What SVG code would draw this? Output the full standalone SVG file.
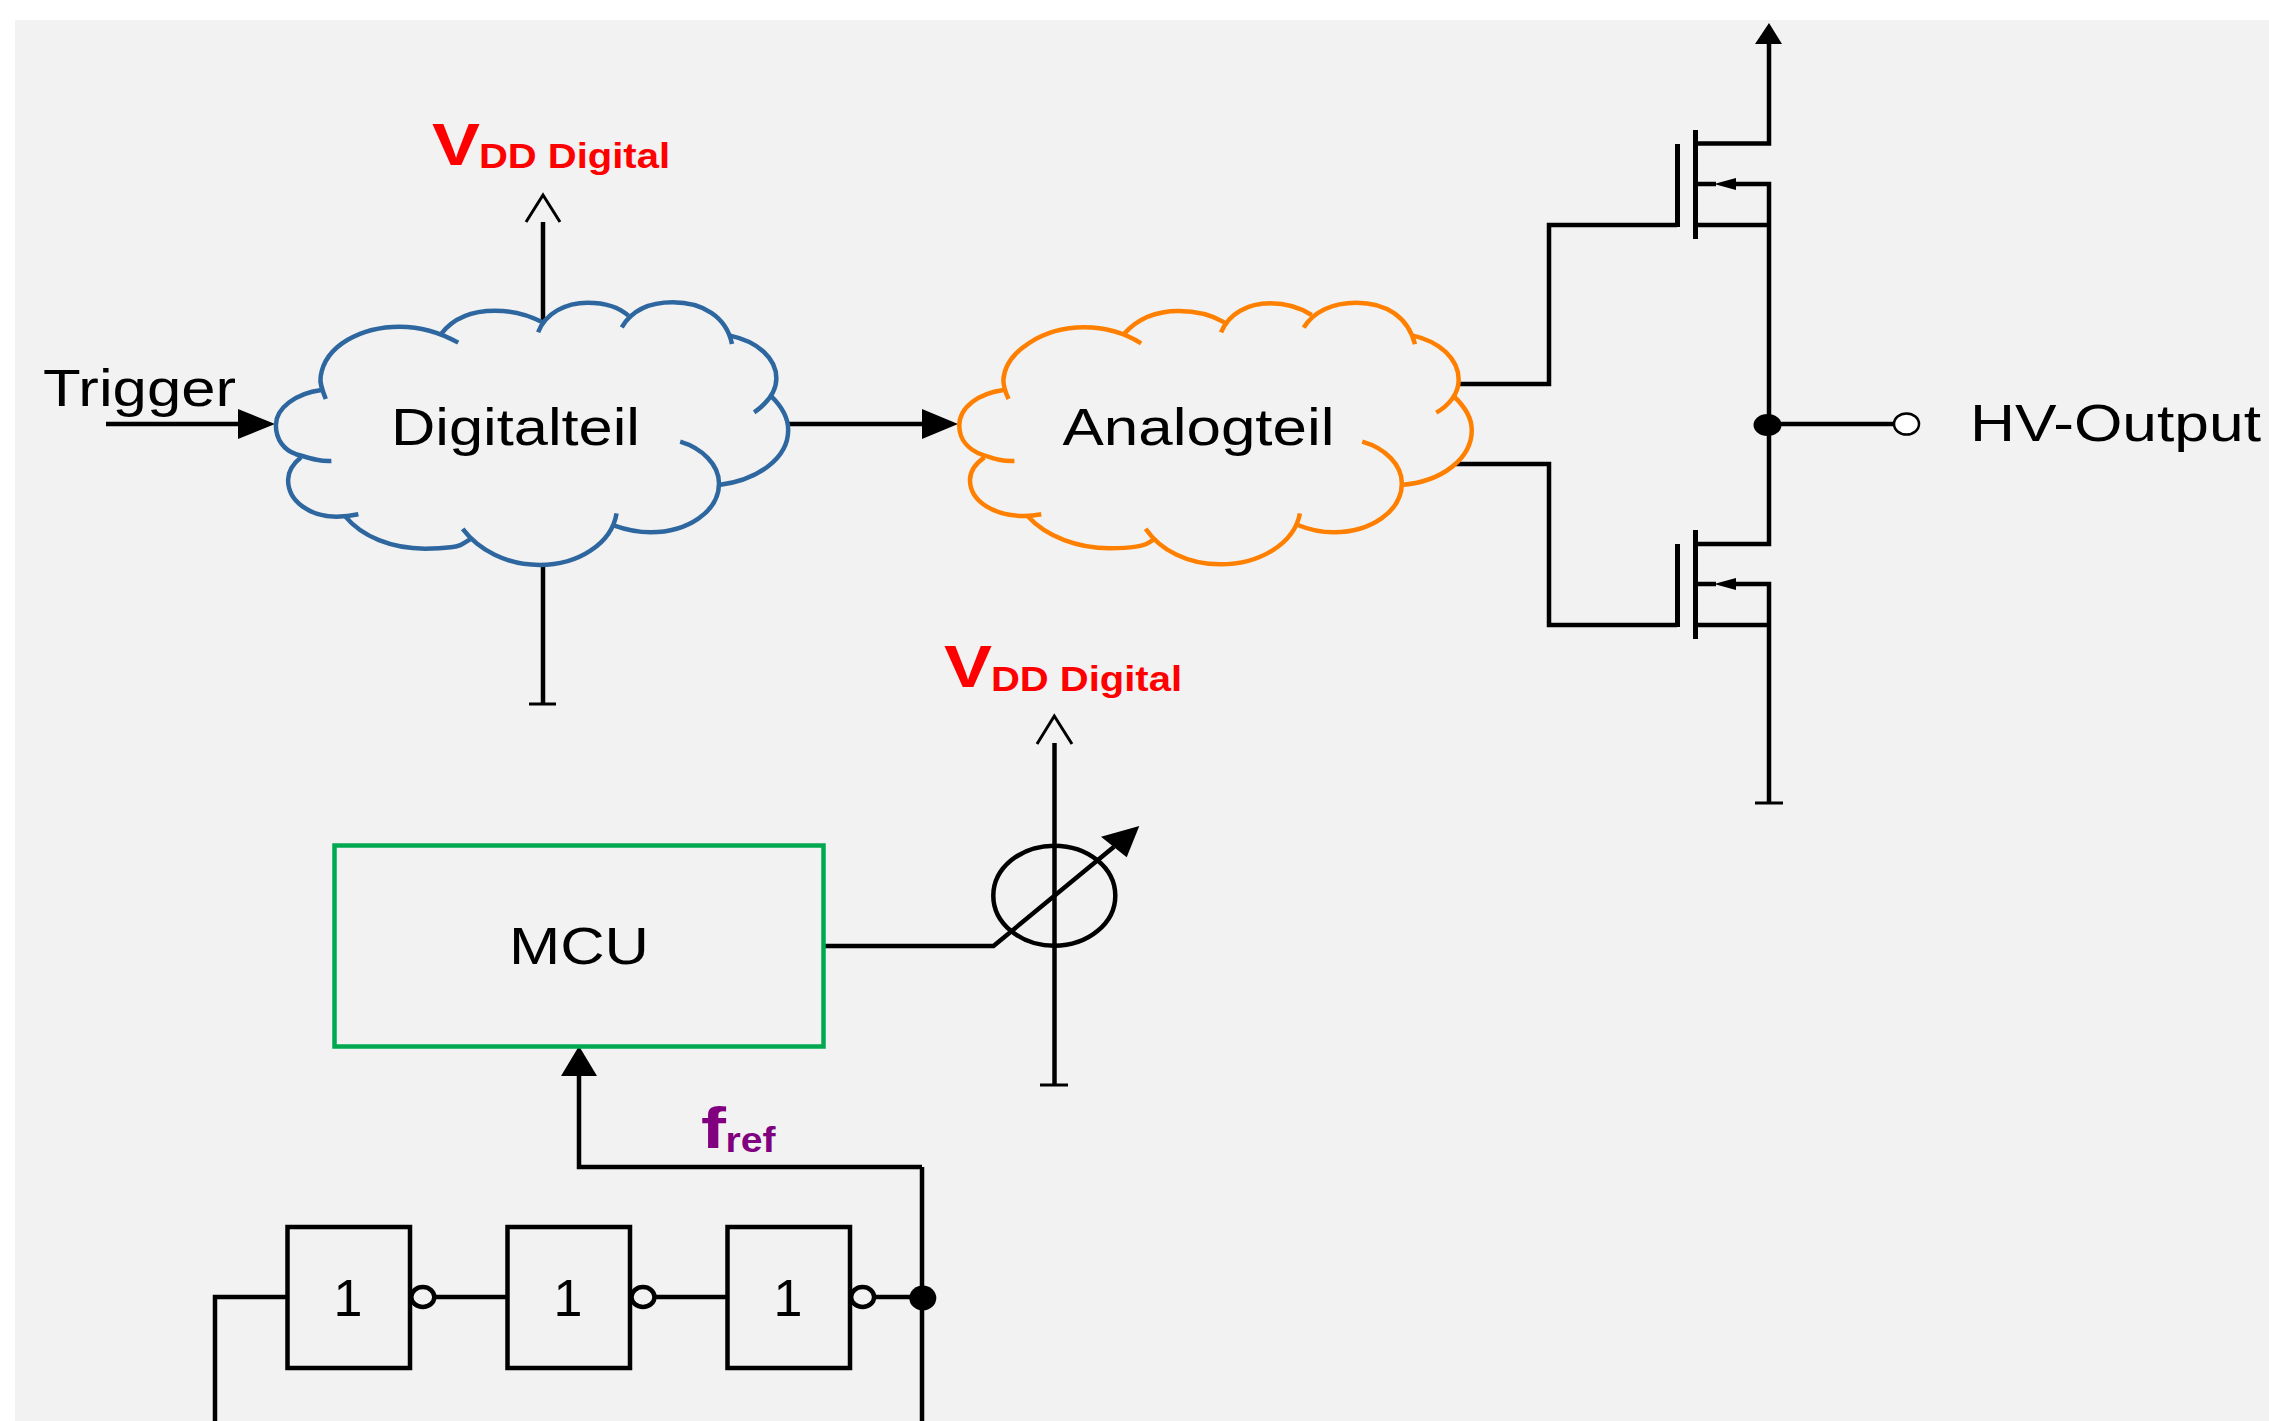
<svg xmlns="http://www.w3.org/2000/svg" width="2269" height="1421" viewBox="0 0 2269 1421">
<style>
.w{fill:none;stroke:#000;stroke-width:4.500}
.t{fill:none;stroke:#000;stroke-width:3}
.b{fill:none;stroke:#000;stroke-width:5}
.h{fill:#000;stroke:none}
.cloud path{fill:none;stroke-width:4.500;vector-effect:non-scaling-stroke}
text{font-family:"Liberation Sans",Arial,sans-serif;fill:#000}
.lab{font-size:52px}
.v{font-weight:bold;fill:#f00}
.f{font-weight:bold;fill:#800080}
</style>
<rect x="15" y="20" width="2254" height="1401" fill="#f2f2f2"/>
<g id="connectors">
<path class="w" d="M106 424H240"/><polygon class="h" points="238,409 275,424 238,439"/>
<path class="w" d="M788 424H925"/><polygon class="h" points="922,409 958,424 922,439"/>
<path class="w" d="M543 322V222"/><path class="t" d="M526 222L543 195L560 222"/>
<path class="w" d="M543 565V704"/><path class="t" d="M529 704H556"/>
<path class="w" d="M1458 384H1549V225H1677"/>
<path class="w" d="M1455 464H1549V625H1677"/>
<path class="w" d="M1769 40V143.500H1697"/><polygon class="h" points="1769,23 1782,44 1755,44"/>
<path class="w" d="M1697 225H1769"/><path class="w" d="M1697 184H1716M1734 184H1769V544H1697"/>
<polygon class="h" points="1714,184 1736,178 1736,190"/>
<path class="w" d="M1697 625H1769"/><path class="w" d="M1697 584H1716M1734 584H1769V803"/>
<polygon class="h" points="1714,584 1736,578 1736,590"/>
<path class="t" d="M1755 803H1783"/>
<path class="w" d="M1769 424H1894"/>
<ellipse class="h" cx="1767.500" cy="425" rx="14" ry="11"/>
<path class="w" d="M823 946H993.500L1114 846.700"/><polygon class="h" points="1139.300,826 1101,836.700 1126.700,857.300"/>
<path class="w" d="M1054.500 743V1085"/><path class="t" d="M1037 744L1054.300 716L1072 744M1040 1085H1068"/>
<path class="w" d="M579 1070V1167H922M922 1167V1421M215 1421V1297H287.500"/>
<polygon class="h" points="579,1046 597,1076 561,1076"/>
<path class="w" d="M410 1297H412M434 1297H507M630 1297H632M654 1297H727M850 1297H852M874 1297H922"/>
</g>
<g id="digitalteil" class="cloud">
<g transform="translate(240 270) scale(.3699 .3333)" stroke="#2e679f">
<path d="M232 387C222 360 215 340 218 320C230 225 330 170 432 170C490 170 545 190 590 218"/>
<path d="M545 190C580 140 630 122 690 122C735 122 780 135 818 157"/>
<path d="M806 187C825 130 880 98 940 98C985 98 1025 112 1050 137"/>
<path d="M1032 172C1060 120 1110 97 1170 97C1250 97 1315 140 1330 222"/>
<path d="M1325 197C1400 215 1450 265 1450 325C1450 365 1425 400 1390 427"/>
<path d="M1435 378C1465 410 1482 440 1482 480C1482 565 1400 630 1295 645"/>
<path d="M1190 515C1250 535 1295 585 1295 640C1295 725 1210 787 1110 787C1075 787 1045 780 1012 767"/>
<path d="M1018 730C1005 820 915 885 810 885C720 885 645 840 602 777"/>
<path d="M622 808C605 820 595 830 570 832C540 836 520 836 500 836C410 836 330 800 285 740"/>
<path d="M320 733C300 738 280 740 260 740C190 740 130 695 130 630C130 600 145 580 165 562"/>
<path d="M247 573C215 575 190 565 150 552C120 540 97 510 97 465C97 415 150 370 220 360"/>
</g>
<text class="lab" x="391" y="445" textLength="249" lengthAdjust="spacingAndGlyphs">Digitalteil</text>
</g>
<g id="analogteil" class="cloud">
<g transform="translate(950 280) scale(.3444 .3333)" stroke="#ff8000">
<path d="M170 357C160 335 155 320 155 300C160 215 270 142 390 142C440 142 500 155 555 190"/>
<path d="M505 162C545 115 600 93 665 93C715 93 760 105 797 127"/>
<path d="M787 157C810 100 865 70 930 70C975 70 1015 82 1050 105"/>
<path d="M1027 143C1055 95 1110 68 1180 68C1265 68 1330 110 1350 193"/>
<path d="M1345 167C1420 185 1477 235 1477 300C1477 340 1450 375 1412 398"/>
<path d="M1462 348C1495 380 1515 415 1515 450C1515 535 1430 605 1310 615"/>
<path d="M1197 485C1265 505 1312 555 1312 610C1312 695 1220 757 1115 757C1075 757 1045 750 1010 735"/>
<path d="M1016 700C1000 790 900 853 785 853C690 853 610 810 568 746"/>
<path d="M590 780C575 790 565 797 540 800C515 804 490 805 465 805C370 805 280 770 225 708"/>
<path d="M265 703C245 707 230 708 215 708C130 708 58 665 58 600C58 570 75 550 100 532"/>
<path d="M187 543C150 545 125 535 95 525C55 510 27 480 27 437C27 380 85 340 155 330"/>
</g>
<text class="lab" x="1062.500" y="445" textLength="272" lengthAdjust="spacingAndGlyphs">Analogteil</text>
</g>
<g id="mosfet-high">
<path class="b" d="M1677.500 144V227M1695.500 130V239"/>
</g>
<g id="mosfet-low">
<path class="b" d="M1677.500 544V627M1695.500 530V639"/>
</g>
<g id="hv-output">
<ellipse cx="1906.500" cy="424" rx="12.500" ry="10.500" fill="#fff" stroke="#000" stroke-width="2.500"/>
<text class="lab" x="1970" y="441" textLength="291" lengthAdjust="spacingAndGlyphs">HV-Output</text>
</g>
<g id="trigger"><text class="lab" x="43" y="406" textLength="193" lengthAdjust="spacingAndGlyphs">Trigger</text></g>
<g id="vdd-digital-1">
<text class="v" font-size="60" x="432" y="165" textLength="48" lengthAdjust="spacingAndGlyphs">V</text>
<text class="v" font-size="35" x="479" y="168" textLength="191" lengthAdjust="spacingAndGlyphs">DD Digital</text>
</g>
<g id="vdd-digital-2">
<text class="v" font-size="60" x="944" y="686.700" textLength="48" lengthAdjust="spacingAndGlyphs">V</text>
<text class="v" font-size="35" x="991" y="690.700" textLength="191" lengthAdjust="spacingAndGlyphs">DD Digital</text>
</g>
<g id="mcu">
<rect x="334.500" y="845.500" width="489" height="201" fill="none" stroke="#00a84f" stroke-width="4.500"/>
<text class="lab" x="509" y="964" textLength="140" lengthAdjust="spacingAndGlyphs">MCU</text>
</g>
<g id="current-source"><ellipse class="w" cx="1054.300" cy="895.700" rx="61" ry="50"/></g>
<g id="fref">
<text class="f" font-size="58" x="701" y="1148" textLength="25" lengthAdjust="spacingAndGlyphs">f</text>
<text class="f" font-size="35" x="725.500" y="1152" textLength="50" lengthAdjust="spacingAndGlyphs">ref</text>
</g>
<g id="inverter-1"><rect class="w" x="287.500" y="1227" width="122.500" height="141"/><text class="lab" x="348" y="1315.700" text-anchor="middle">1</text><ellipse class="w" cx="422.800" cy="1297" rx="11.500" ry="10"/></g>
<g id="inverter-2"><rect class="w" x="507.500" y="1227" width="122.500" height="141"/><text class="lab" x="568" y="1315.700" text-anchor="middle">1</text><ellipse class="w" cx="643" cy="1297" rx="11.500" ry="10"/></g>
<g id="inverter-3"><rect class="w" x="727.500" y="1227" width="122.500" height="141"/><text class="lab" x="788" y="1315.700" text-anchor="middle">1</text><ellipse class="w" cx="862.600" cy="1297" rx="11.500" ry="10"/></g>
<g id="output-node"><ellipse class="h" cx="922.800" cy="1298" rx="13.500" ry="12.500"/></g>
</svg>
